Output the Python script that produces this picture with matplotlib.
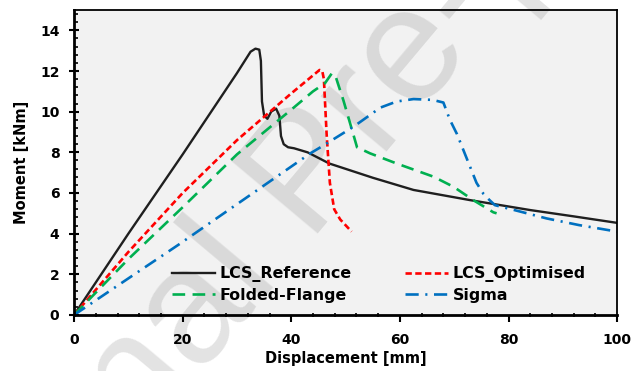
import matplotlib
matplotlib.use("Agg")
import matplotlib.pyplot as plt
from matplotlib.patches import Rectangle
from matplotlib.ticker import MultipleLocator

# curves (displacement mm, moment kNm)
ref_x = [0, 5, 10, 20, 30, 32.5, 33.4, 34.1, 34.4, 34.6, 35.0, 35.6, 36.3, 37.2, 37.8, 38.1, 38.6, 39.4, 40.5, 43, 47, 55, 62.5, 72.9, 84, 92, 100]
ref_y = [0, 2.0, 4.0, 7.9, 11.9, 12.95, 13.1, 13.05, 12.5, 10.5, 9.8, 9.65, 10.0, 10.15, 9.8, 8.8, 8.4, 8.25, 8.2, 8.0, 7.45, 6.75, 6.15, 5.65, 5.16, 4.85, 4.53]

opt_x = [0, 10, 20, 30, 40, 45.2, 45.7, 46.0, 46.5, 47.1, 47.9, 49.0, 51.1]
opt_y = [0, 3.1, 6.0, 8.6, 10.9, 12.05, 12.0, 11.6, 8.9, 6.5, 5.2, 4.7, 4.1]

ff_x = [0, 10, 20, 30, 40, 44, 46.2, 47.5, 48.2, 49.6, 51.4, 52.1, 54.5, 59.4, 66.2, 69.9, 73.5, 77.2, 77.8]
ff_y = [0, 2.75, 5.3, 7.9, 10.1, 11.0, 11.4, 11.9, 11.7, 10.55, 8.9, 8.25, 7.95, 7.45, 6.8, 6.3, 5.65, 5.05, 5.0]

sig_x = [0, 10, 19.2, 30, 43.5, 46, 51.4, 56.4, 59.4, 62.5, 66, 68, 69.2, 70.5, 72.9, 74.1, 75.4, 76.5, 77.5, 80.5, 87, 93, 100]
sig_y = [0, 1.8, 3.45, 5.45, 7.95, 8.35, 9.25, 10.2, 10.5, 10.62, 10.58, 10.45, 9.6, 8.9, 7.3, 6.5, 5.95, 5.65, 5.4, 5.2, 4.75, 4.42, 4.1]

plt.rcParams['font.family'] = ['DejaVu Sans']
plt.rcParams['font.weight'] = 'bold'

fig = plt.figure(figsize=(6.33, 3.71), dpi=100)
ax = fig.add_axes([0.117, 0.151, 0.858, 0.822])

# grey plot background drawn at figure level so the watermark sits between it and the lines
pos = ax.get_position()
fig.patches.append(Rectangle((pos.x0, pos.y0), pos.width, pos.height,
                             transform=fig.transFigure, facecolor='#f2f2f2',
                             edgecolor='none', zorder=0))
fig.text(0.49, 0.52, "Journal Pre-proof", fontsize=118, family='Liberation Sans',
         fontweight='normal', color='#808080', alpha=0.22, rotation=50,
         rotation_mode='anchor', ha='center', va='center', zorder=0.5)
ax.patch.set_visible(False)
ax.set_zorder(2)

l1, = ax.plot(ref_x, ref_y, color='#1f1f1f', lw=1.7, label='LCS_Reference')
l2, = ax.plot(opt_x, opt_y, color='#ff0000', lw=1.9, dashes=(2.4, 1.3), label='LCS_Optimised')
l3, = ax.plot(ff_x, ff_y, color='#00b050', lw=1.9, dashes=(4.8, 2.8), label='Folded-Flange')
l4, = ax.plot(sig_x, sig_y, color='#0070c0', lw=1.9, dashes=(5, 2.5, 0.8, 2.5), label='Sigma')

ax.set_xlim(0, 100)
ax.set_ylim(0, 15)
ax.xaxis.set_major_locator(MultipleLocator(20))
ax.xaxis.set_minor_locator(MultipleLocator(4))
ax.yaxis.set_major_locator(MultipleLocator(2))
ax.yaxis.set_minor_locator(MultipleLocator(0.4))
ax.tick_params(axis='y', which='major', direction='inout', length=7, width=1.5, labelsize=10, pad=7)
ax.tick_params(axis='y', which='minor', direction='in', length=3, width=1.2)
ax.tick_params(axis='x', which='major', direction='out', length=5, width=1.5, labelsize=10, pad=8)
ax.tick_params(axis='x', which='minor', direction='inout', length=3, width=1.2)
for side in ['left', 'bottom']:
    ax.spines[side].set_linewidth(2)
for side in ['top', 'right']:
    ax.spines[side].set_linewidth(1.3)

ax.set_xlabel("Displacement [mm]", fontsize=10.5, fontweight='bold', labelpad=3)
ax.set_ylabel("Moment [kNm]", fontsize=10.5, fontweight='bold', labelpad=8)

# column-major fill: reference/optimised on the first row
ax.legend([l1, l3, l2, l4], [l.get_label() for l in [l1, l3, l2, l4]],
          ncol=2, frameon=False, loc='upper left', bbox_to_anchor=(0.18, 0.16),
          borderaxespad=0, borderpad=0, handlelength=2.7, handletextpad=0.3,
          columnspacing=3.4, labelspacing=0.35, prop={'size': 11.4, 'weight': 'bold'})

fig.savefig("out.png", dpi=100)
